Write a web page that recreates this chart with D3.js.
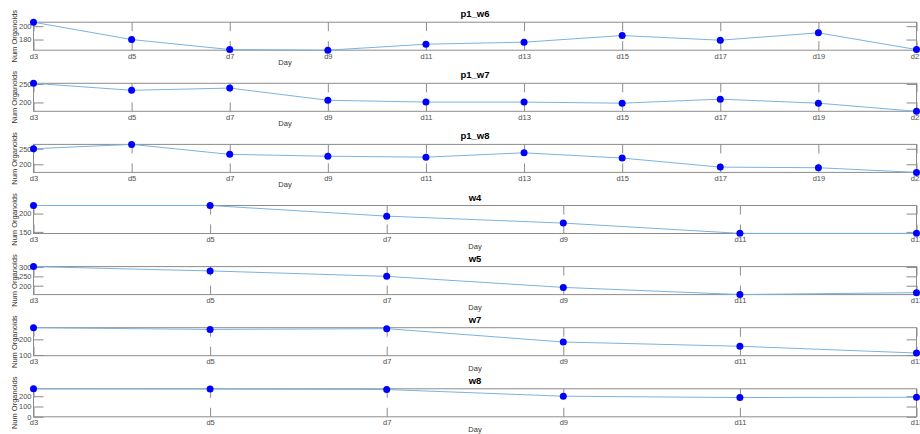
<!doctype html>
<html>
<head>
  <style>
    body { margin: 0; background: #fff; }
    svg { font-family: "Liberation Sans", Arial, sans-serif; }
    .tick text { fill: #4d4d4d; font-size: 7.5px; }
    .tick line { stroke: #8c8c8c; }
  </style>
  <script src="https://d3js.org/d3.v7.min.js"></script>
</head>
<body>
<svg width="920" height="434"></svg>
<script>
  // categories
  var daysLong = ["d3", "d5", "d7", "d9", "d11", "d13", "d15", "d17", "d19", "d21"];
  var daysShort = ["d3", "d5", "d7", "d9", "d11", "d13"];

  // series values
  var p1_w6 = [206, 180, 165, 164, 173, 176, 186, 179, 190, 165];
  var p1_w7 = [252, 233, 239, 206, 201, 201, 198, 209, 198, 176];
  var p1_w8 = [250, 264, 232, 226, 223, 237, 220, 191, 189, 174];
  var w4 = [222, 222, 193, 174, 146, 146];
  var w5 = [302, 279, 250, 191, 153, 163];
  var w7 = [274, 263, 268, 183, 156, 113];
  var w8 = [272, 270, 265, 200, 187, 190];

  // titles, y limits and tick labels
  var titles = ["p1_w6", "p1_w7", "p1_w8", "w4", "w5", "w7", "w8"];
  var yLimits = [[164, 206], [176, 252], [174, 264], [145.6, 222], [152.6, 302], [96, 274], [0, 272]];
  var yTicks = [[180, 200], [200, 250], [200, 250], [150, 200], [200, 250, 300], [100, 200], [0, 100, 200]];

  var series = [p1_w6, p1_w7, p1_w8, w4, w5, w7, w8];
  var cats = [daysLong, daysLong, daysLong, daysShort, daysShort, daysShort, daysShort];

  var svg = d3.select("svg");
  var left = 33.5, right = 916.5, plotH = 28, gap = 61.1, top0 = 22.2;

  series.forEach(function (vals, i) {
    var top = top0 + i * gap, bottom = top + plotH;
    var days = cats[i];

    var x = d3.scalePoint().domain(days).range([left, right]).padding(0);
    var y = d3.scaleLinear().domain(yLimits[i]).range([bottom, top]);

    var g = svg.append("g");

    g.append("g")
      .attr("transform", "translate(0," + bottom + ")")
      .call(d3.axisBottom(x).tickSizeInner(-9).tickSizeOuter(0).tickPadding(3))
      .call(function (a) { a.select(".domain").remove(); });

    g.append("g")
      .attr("transform", "translate(0," + top + ")")
      .call(d3.axisTop(x).tickSizeInner(-9).tickSizeOuter(0).tickFormat(""))
      .call(function (a) { a.select(".domain").remove(); });

    g.append("g")
      .attr("transform", "translate(" + left + ",0)")
      .call(d3.axisLeft(y).tickValues(yTicks[i]).tickSizeInner(-10).tickSizeOuter(0).tickPadding(2))
      .call(function (a) { a.select(".domain").remove(); });

    g.append("g")
      .attr("transform", "translate(" + right + ",0)")
      .call(d3.axisRight(y).tickValues(yTicks[i]).tickSizeInner(-10).tickSizeOuter(0).tickFormat(""))
      .call(function (a) { a.select(".domain").remove(); });

    g.append("rect")
      .attr("x", left).attr("y", top)
      .attr("width", right - left).attr("height", plotH)
      .attr("fill", "none").attr("stroke", "#8c8c8c").attr("stroke-width", 1);

    var line = d3.line()
      .x(function (d, k) { return x(days[k]); })
      .y(function (d) { return y(d); });

    g.append("path")
      .datum(vals)
      .attr("d", line)
      .attr("fill", "none")
      .attr("stroke", "#78b4e0")
      .attr("stroke-width", 1);

    g.selectAll(".dot")
      .data(vals)
      .enter().append("circle")
      .attr("cx", function (d, k) { return x(days[k]); })
      .attr("cy", function (d) { return y(d); })
      .attr("r", 3.5)
      .attr("fill", "#0000ff");

    g.append("text")
      .attr("x", (left + right) / 2)
      .attr("y", top - 5)
      .attr("text-anchor", "middle")
      .attr("font-size", "9.5px")
      .attr("font-weight", "bold")
      .text(titles[i]);

    g.append("text")
      .attr("x", i < 3 ? 285 : (left + right) / 2)
      .attr("y", bottom + 15)
      .attr("text-anchor", "middle")
      .attr("font-size", "7.5px")
      .attr("fill", "#333")
      .text("Day");

    g.append("text")
      .attr("transform", "translate(17," + (top + plotH / 2) + ") rotate(-90)")
      .attr("text-anchor", "middle")
      .attr("font-size", "7.5px")
      .attr("fill", "#333")
      .text("Num Organoids");
  });
</script>
</body>
</html>
